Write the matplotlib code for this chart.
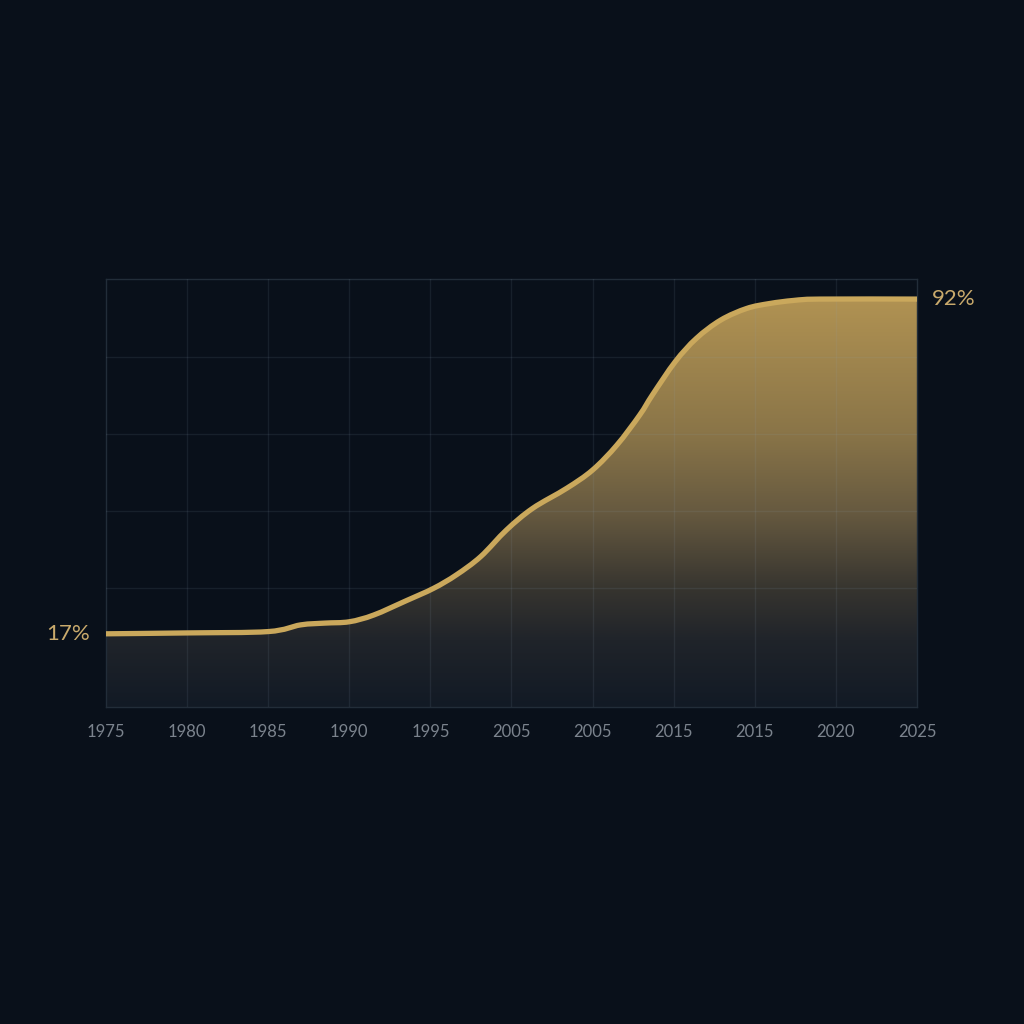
import numpy as np
import matplotlib
matplotlib.use("Agg")
import matplotlib.pyplot as plt
from matplotlib.colors import LinearSegmentedColormap
from matplotlib.path import Path
from matplotlib.patches import PathPatch

# ---- data ----
years = [1975, 1980, 1985, 1987, 1988.5, 1990, 1991.5, 1993.5, 1995.2, 1996.6, 1998.1,
         1999.7, 2001.3, 2003.4, 2005, 2006.5, 2007.9, 2008.7, 2010.1, 2011.4, 2012.9,
         2014.5, 2015.9, 2017.4, 2019, 2025]
values = [17, 17.2, 17.5, 19.0, 19.4, 19.7, 21.2, 24.4, 27.2, 30.2, 34.3,
          40.3, 45.1, 49.6, 53.7, 59.3, 66.0, 70.6, 78.0, 83.2, 87.3,
          89.9, 91.0, 91.7, 92, 92]
tick_years = [1975, 1980, 1985, 1990, 1995, 2000, 2005, 2010, 2015, 2020, 2025]
tick_labels = ["1975", "1980", "1985", "1990", "1995", "2005", "2005",
               "2015", "2015", "2020", "2025"]
grid_values = [27.2, 44.5, 61.8, 79.1]
start_label = "17%"
end_label = "92%"

BG = "#09101a"
GOLD = "#caa85c"
YMIN, YMAX = 0.6, 96.5
plt.rcParams['font.family'] = ['Lato', 'DejaVu Sans']

fig = plt.figure(figsize=(10.24, 10.24), dpi=100, facecolor=BG)
ax = fig.add_axes([106/1024, 1-707/1024, (917-106)/1024, (707-279)/1024])
ax.set_facecolor(BG)
ax.set_xlim(1975, 2025)
ax.set_ylim(YMIN, YMAX)

x = np.array(years, dtype=float)
y = np.array(values, dtype=float)

# smooth curve through the data points as a Catmull-Rom style cubic Bezier path
def smooth_path_codes(x, y):
    verts = [(x[0], y[0])]
    codes = [Path.MOVETO]
    n = len(x)
    for i in range(n - 1):
        x0, y0 = (x[i - 1], y[i - 1]) if i > 0 else (x[i], y[i])
        x1, y1 = x[i], y[i]
        x2, y2 = x[i + 1], y[i + 1]
        x3, y3 = (x[i + 2], y[i + 2]) if i + 2 < n else (x2, y2)
        t = 6.0
        c1 = (x1 + (x2 - x0) / t, y1 + (y2 - y0) / t)
        c2 = (x2 - (x3 - x1) / t, y2 - (y3 - y1) / t)
        verts += [c1, c2, (x2, y2)]
        codes += [Path.CURVE4] * 3
    return verts, codes

cv, cc = smooth_path_codes(x, y)
line_path = Path(cv, cc)
fill_path = Path(cv + [(x[-1], YMIN), (x[0], YMIN), (x[0], y[0])],
                 cc + [Path.LINETO, Path.LINETO, Path.CLOSEPOLY])

# gradient fill
cmap = LinearSegmentedColormap.from_list(
    "g", [(0.0, "#121a25"), (0.16, "#20242a"), (0.28, "#36342f"),
          (0.47, "#675a40"), (0.66, "#8a7548"), (1.0, "#b39453")])
grad = np.linspace(0, 1, 256).reshape(-1, 1)
im = ax.imshow(grad, cmap=cmap, aspect="auto", origin="lower",
               extent=[1975, 2025, YMIN, 94], zorder=2, interpolation="bilinear")
clip = PathPatch(fill_path, transform=ax.transData, facecolor="none", edgecolor="none")
ax.add_patch(clip)
im.set_clip_path(clip)

# grid (drawn faintly over the fill)
for gy in grid_values:
    ax.axhline(gy, color="#8fa3b8", alpha=0.11, lw=1, zorder=3)
for tx in tick_years[1:-1]:
    ax.axvline(tx, color="#8fa3b8", alpha=0.11, lw=1, zorder=3)
for s in ax.spines.values():
    s.set_color("#222d39")
    s.set_linewidth(1)

ax.add_patch(PathPatch(line_path, facecolor="none", edgecolor=GOLD, lw=3.8,
                       capstyle="round", joinstyle="round", zorder=4))

ax.set_xticks(tick_years)
ax.set_xticklabels(tick_labels, fontsize=12, color="#7b838d")
ax.tick_params(axis="x", length=0, pad=12)
ax.set_yticks([])

ax.text(1975 - 1.0, values[0], start_label, ha="right", va="center",
        fontsize=16, color="#c9aa6c")
ax.text(2025 + 0.9, values[-1], end_label, ha="left", va="center",
        fontsize=16, color="#c9aa6c")

fig.savefig("out.png", dpi=100, facecolor=BG)
